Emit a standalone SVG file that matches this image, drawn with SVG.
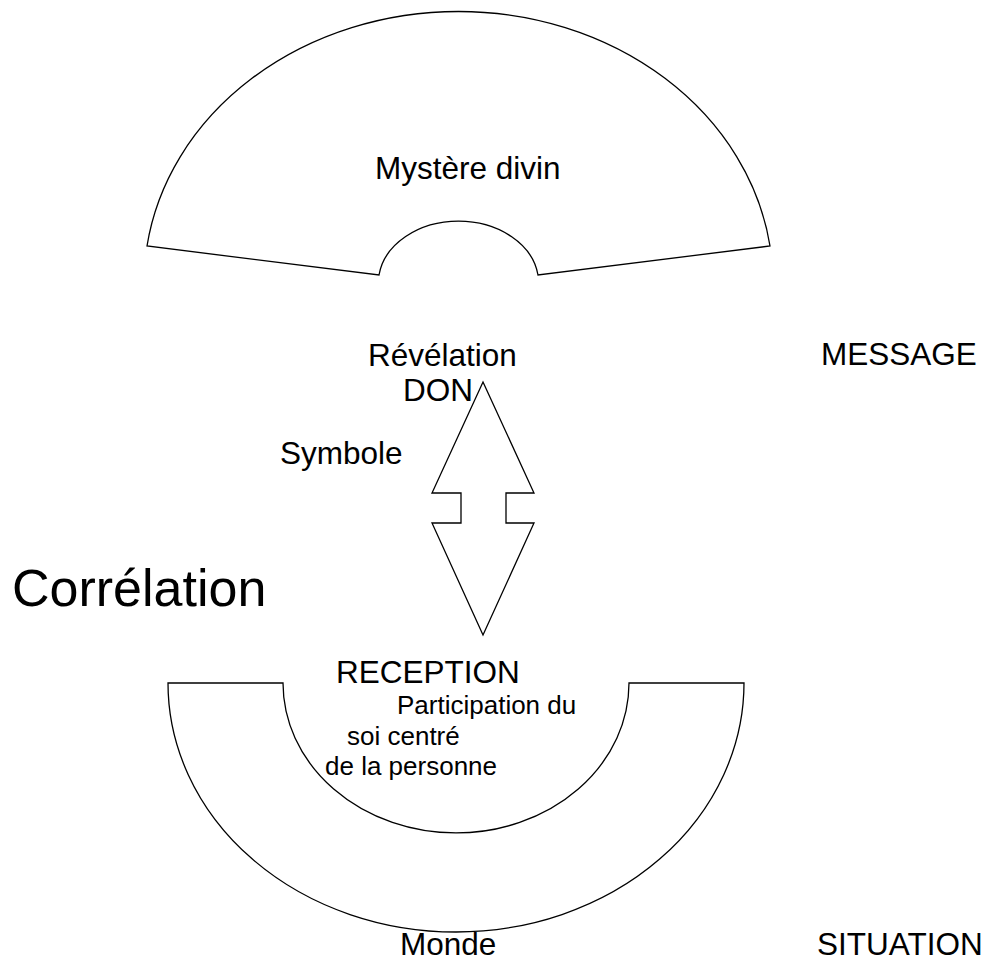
<svg xmlns="http://www.w3.org/2000/svg" width="989" height="962" viewBox="0 0 989 962">
  <style>
    .shape { fill: #ffffff; stroke: #000000; stroke-width: 1.3; stroke-linejoin: miter; }
    text { font-family: "Liberation Sans", Arial, sans-serif; fill: #000000; }
    .big { font-size: 31.5px; }
    .small { font-size: 26px; }
    .huge { font-size: 52px; }
  </style>
  <rect x="0" y="0" width="989" height="962" fill="#ffffff"/>
  <g id="mystere">
    <path class="shape" d="M147,246 A314.5,272 0 0 1 770,246 L538,275 A80.2,62 0 0 0 379,275 Z"/>
    <text class="big" x="375" y="179">Mystère divin</text>
  </g>
  <g id="connectors">
    <polygon class="shape" points="483,382 534,493 506,493 506,523 534,523 483,635 432,523 461,523 461,493 432,493"/>
  </g>
  <g id="revelation">
    <text class="big" x="368" y="366">Révélation</text>
    <text class="big" x="403" y="401">DON</text>
  </g>
  <g id="message">
    <text class="big" x="821" y="365">MESSAGE</text>
  </g>
  <g id="symbole">
    <text class="big" x="280" y="464">Symbole</text>
  </g>
  <g id="correlation">
    <text class="huge" x="12" y="606">Corrélation</text>
  </g>
  <g id="reception">
    <path class="shape" d="M168,683 L283,683 A173,150 0 0 0 629,683 L744,683 A288,249 0 0 1 168,683 Z"/>
    <text class="big" x="336" y="683">RECEPTION</text>
    <text class="small" x="397" y="714">Participation du</text>
    <text class="small" x="347" y="745">soi centré</text>
    <text class="small" x="325" y="775">de la personne</text>
  </g>
  <g id="monde">
    <text class="big" x="400" y="955">Monde</text>
  </g>
  <g id="situation">
    <text class="big" x="817" y="955">SITUATION</text>
  </g>
</svg>
